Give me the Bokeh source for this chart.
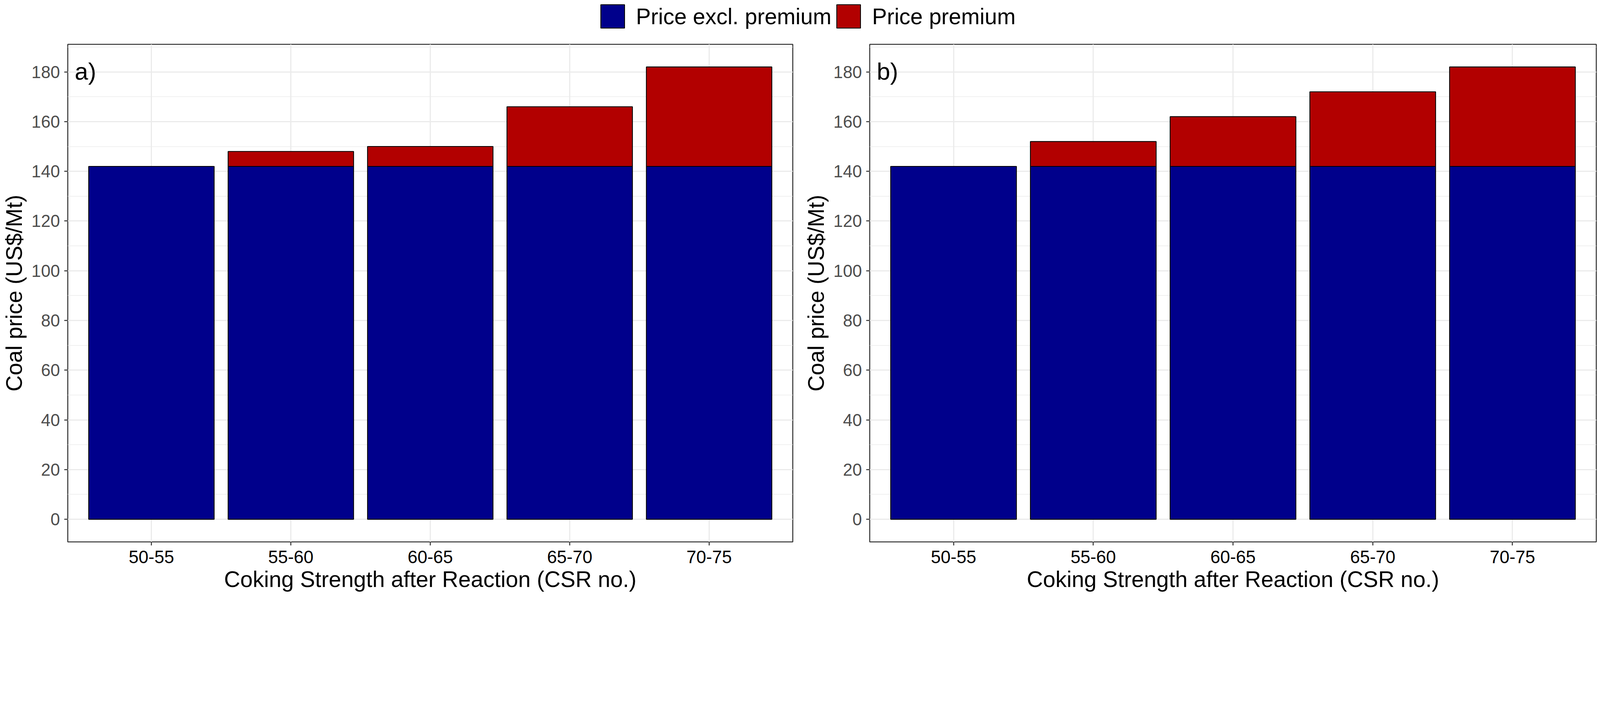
from bokeh.plotting import figure
from bokeh.models import (FactorRange, Range1d, SingleIntervalTicker, Label, Legend,
                          LegendItem, ColumnDataSource)
from bokeh.layouts import column, row
from bokeh.embed import file_html
from bokeh.resources import INLINE

categories = ["50-55", "55-60", "60-65", "65-70", "70-75"]
base_a = [142, 142, 142, 142, 142]
premium_a = [0, 6, 8, 24, 40]
base_b = [142, 142, 142, 142, 142]
premium_b = [0, 10, 20, 30, 40]
series_labels = ["Price excl. premium", "Price premium"]
panel_labels = ["a)", "b)"]
x_title = "Coking Strength after Reaction (CSR no.)"
y_title = "Coal price (US$/Mt)"

BLUE = "#00008B"
RED = "#B20000"
FONT = "Liberation Sans"
S = 6.0 / 7.0  # page is rendered at ~7/6 scale


def fs(v):
    return f"{v * S:.1f}px"


def make_panel(base, premium, letter, border_left, border_right):
    src = ColumnDataSource(dict(cat=categories, base=base, premium=premium))
    p = figure(width=2049, height=1474,
               x_range=FactorRange(factors=categories, range_padding=0.1,
                                   range_padding_units="absolute"),
               y_range=Range1d(-9.1, 191.1),
               toolbar_location=None, output_backend="svg",
               min_border_left=border_left, min_border_right=border_right,
               min_border_top=7, min_border_bottom=193)
    p.vbar_stack(["base", "premium"], x="cat", width=0.9, source=src,
                 fill_color=[BLUE, RED], line_color="black", line_width=2.5 * S)
    p.background_fill_color = "white"
    p.border_fill_color = "white"
    p.outline_line_color = "#333333"
    p.outline_line_width = 3 * S

    p.yaxis.ticker = SingleIntervalTicker(interval=20, num_minor_ticks=2)
    for ax in (p.xaxis[0], p.yaxis[0]):
        ax.axis_line_color = None
        ax.major_tick_line_color = "#333333"
        ax.major_tick_line_width = 3 * S
        ax.major_tick_out = round(11 * S)
        ax.major_tick_in = 0
        ax.minor_tick_out = 0
        ax.minor_tick_in = 0
        ax.major_label_text_font = FONT
        ax.axis_label_text_font = FONT
        ax.axis_label_text_font_size = fs(67)
        ax.axis_label_text_font_style = "normal"
        ax.axis_label_text_color = "black"
    p.xaxis.axis_label = x_title
    p.yaxis.axis_label = y_title
    p.xaxis.major_label_text_font_size = fs(53)
    p.yaxis.major_label_text_font_size = fs(51)
    p.xaxis.major_label_text_color = "black"
    p.yaxis.major_label_text_color = "#4D4D4D"
    p.xaxis.major_label_standoff = 13
    p.yaxis.major_label_standoff = 11
    p.xaxis.axis_label_standoff = 6
    p.yaxis.axis_label_standoff = 10

    p.xgrid.grid_line_color = "#EBEBEB"
    p.xgrid.grid_line_width = 3.5 * S
    p.ygrid.grid_line_color = "#EBEBEB"
    p.ygrid.grid_line_width = 3.5 * S
    p.ygrid.minor_grid_line_color = "#EBEBEB"
    p.ygrid.minor_grid_line_width = 1.75 * S

    p.add_layout(Label(x=-0.05, y=180.3, text=letter, text_font=FONT,
                       text_font_size=fs(72), text_baseline="alphabetic",
                       text_align="left", text_color="black"))
    return p


p1 = make_panel(base_a, premium_a, panel_labels[0], 169, 20)
p2 = make_panel(base_b, premium_b, panel_labels[1], 177, 12)

lf = figure(width=4098, height=106, toolbar_location=None, output_backend="svg",
            x_axis_type=None, y_axis_type=None,
            x_range=Range1d(0, 1), y_range=Range1d(0, 1), min_border=0)
lf.outline_line_color = None
lf.background_fill_color = "white"
lf.border_fill_color = "white"
# keys for the legend, drawn outside the visible range
r1 = lf.vbar(x=[5], top=[1], width=0.1, fill_color=BLUE, line_color="black", line_width=2.5 * S)
r2 = lf.vbar(x=[5], top=[1], width=0.1, fill_color=RED, line_color="black", line_width=2.5 * S)
leg = Legend(items=[LegendItem(label=series_labels[0], renderers=[r1]),
                    LegendItem(label=series_labels[1], renderers=[r2])],
             orientation="horizontal", location=(1530, 27),
             glyph_width=76, glyph_height=75, label_standoff=22, spacing=6,
             padding=0, margin=0, border_line_color=None, background_fill_alpha=0,
             label_text_font=FONT, label_text_font_size=fs(66.5),
             label_text_color="black")
lf.add_layout(leg)

layout = column(lf, row(p1, p2))
open("out.html", "w").write(file_html(layout, INLINE))
